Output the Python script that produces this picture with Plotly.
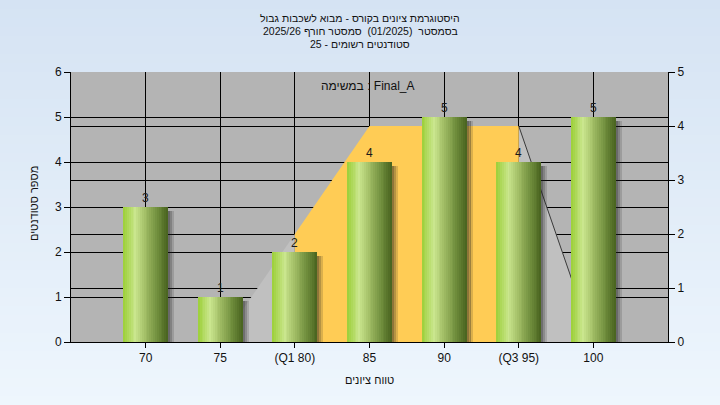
import plotly.graph_objects as go

# ---------------- data ----------------
categories = ["70", "75", "(Q1 80)", "85", "90", "(Q3 95)", "100"]
counts = [3, 1, 2, 4, 5, 4, 5]                  # left axis (number of students)
area_values = [None, 0, 2, 4, 4, 4, 0]          # right axis (distribution area)
left_ticks = [0, 1, 2, 3, 4, 5, 6]
right_ticks = [0, 1, 2, 3, 4, 5]
title_lines = [
    "היסטוגרמת ציונים בקורס - מבוא לשכבות גבול",
    "בסמסטר  (01/2025)  סמסטר חורף 2025/26",
    "סטודנטים רשומים - 25",
]
series_label = "במשימה : Final_A"
x_title = "טווח ציונים"
y_title = "מספר סטודנטים"

# ---------------- layout constants ----------------
W, H = 720, 405
ML, MR, MT, MB = 71, 52, 72, 63
PW, PH = W - ML - MR, H - MT - MB
FONT = "Liberation Sans, Arial, DejaVu Sans, sans-serif"

def px_to_paper_y(py):
    return (H - MB - py) / PH

def px_to_paper_x(px):
    return (px - ML) / PW

xs = list(range(len(categories)))
q1 = next(i for i, c in enumerate(categories) if "Q1" in c)
q3 = next(i for i, c in enumerate(categories) if "Q3" in c)
first = next(i for i, v in enumerate(area_values) if v is not None)
last = max(i for i, v in enumerate(area_values) if v is not None)

fig = go.Figure()

# ---------- area polygons (main axis y = right axis 0..5) ----------
def poly(i0, i1):
    px = [xs[i0]] + xs[i0:i1 + 1] + [xs[i1]]
    py = [0] + area_values[i0:i1 + 1] + [0]
    return px, py

for (i0, i1, col) in [(first, q1, "#C0C0C0"), (q3, last, "#C0C0C0"), (q1, q3, "#FFCC55")]:
    px, py = poly(i0, i1)
    fig.add_trace(go.Scatter(x=px, y=py, fill="toself", fillcolor=col, mode="lines",
                             line=dict(width=0), yaxis="y", hoverinfo="skip", showlegend=False))

fig.add_trace(go.Scatter(x=xs[q3:last + 1], y=area_values[q3:last + 1], mode="lines",
                         line=dict(color="#3a3a3a", width=1), yaxis="y",
                         hoverinfo="skip", showlegend=False))

# ---------- bars (overlay axis y2 = left axis 0..6) ----------
bar_w = 0.6
shadow_w = 0.08
for k, a in enumerate([0.5, 0.33, 0.16]):
    fig.add_trace(go.Bar(x=xs, y=[c - 0.09 for c in counts], base=0,
                         width=shadow_w / 3 * 1.05, offset=bar_w / 2 + k * shadow_w / 3,
                         marker=dict(color=f"rgba(30,30,30,{a})", line=dict(width=0)),
                         yaxis="y2", hoverinfo="skip", showlegend=False))

stops = [(0.0, (155, 207, 55)), (0.27, (202, 230, 142)), (0.5, (160, 188, 100)),
         (0.78, (108, 138, 58)), (1.0, (72, 98, 30))]

def grad(t):
    for (t0, c0), (t1, c1) in zip(stops[:-1], stops[1:]):
        if t0 <= t <= t1:
            f = (t - t0) / (t1 - t0)
            return "rgb(%d,%d,%d)" % tuple(round(a + (b - a) * f) for a, b in zip(c0, c1))
    return "rgb(%d,%d,%d)" % stops[-1][1]

N = 24
sw = bar_w / N
for i in range(N):
    t = (i + 0.5) / N
    fig.add_trace(go.Bar(x=xs, y=counts, width=sw * (1.6 if i < N - 1 else 1.0),
                         offset=-bar_w / 2 + i * sw,
                         marker=dict(color=grad(t), line=dict(width=0)),
                         yaxis="y2", hoverinfo="skip", showlegend=False))

# ---------- background gradient (paper) ----------
shapes = []
top_c, bot_c = (213, 227, 243), (238, 246, 253)
nb = 45
for b in range(nb):
    y0p, y1p = b * H / nb, (b + 1) * H / nb + 1
    f = (b + 0.5) / nb
    col = "rgb(%d,%d,%d)" % tuple(round(a + (c - a) * f) for a, c in zip(top_c, bot_c))
    shapes.append(dict(type="rect", xref="paper", yref="paper", layer="below",
                       x0=px_to_paper_x(-5), x1=px_to_paper_x(W + 5),
                       y0=px_to_paper_y(y1p), y1=px_to_paper_y(y0p),
                       fillcolor=col, line=dict(width=0)))
shapes.append(dict(type="rect", xref="paper", yref="paper", layer="below",
                   x0=0, x1=1, y0=0, y1=1, fillcolor="#B4B4B4", line=dict(width=0)))

# ---------- annotations ----------
annotations = []
for x, c in zip(xs, counts):
    annotations.append(dict(text=str(c), x=x, y=c, xref="x", yref="y2",
                            xanchor="center", yanchor="bottom", yshift=0,
                            showarrow=False,
                            font=dict(family=FONT, size=12, color="#1a1a1a")))
for line, py in zip(title_lines, [18, 31, 44]):
    annotations.append(dict(text=line, xref="paper", yref="paper",
                            x=px_to_paper_x(360), y=px_to_paper_y(py),
                            xanchor="center", yanchor="middle", showarrow=False,
                            font=dict(family=FONT, size=10.5, color="#111111")))
annotations.append(dict(text=series_label, xref="paper", yref="paper",
                        x=px_to_paper_x(368), y=px_to_paper_y(86),
                        xanchor="center", yanchor="middle", showarrow=False,
                        font=dict(family=FONT, size=12, color="#111111")))
annotations.append(dict(text=x_title, xref="paper", yref="paper",
                        x=px_to_paper_x(369), y=px_to_paper_y(380),
                        xanchor="center", yanchor="middle", showarrow=False,
                        font=dict(family=FONT, size=11, color="#111111")))
annotations.append(dict(text=y_title, xref="paper", yref="paper", textangle=-90,
                        x=px_to_paper_x(34), y=px_to_paper_y(204),
                        xanchor="center", yanchor="middle", showarrow=False,
                        font=dict(family=FONT, size=11, color="#111111")))

tickfont = dict(family=FONT, size=12, color="#111111")
fig.update_layout(
    width=W, height=H,
    margin=dict(l=ML, r=MR, t=MT, b=MB),
    paper_bgcolor="#E4EEF9", plot_bgcolor="#B4B4B4",
    barmode="overlay", bargap=0,
    shapes=shapes, annotations=annotations,
    xaxis=dict(range=[-1, len(categories)], tickvals=xs, ticktext=categories,
               showgrid=True, gridcolor="black", gridwidth=1, zeroline=False,
               showline=True, linecolor="black", linewidth=1,
               ticks="outside", ticklen=5, tickcolor="black", tickfont=tickfont,
               fixedrange=True),
    yaxis=dict(range=[0, right_ticks[-1]], tickvals=right_ticks, side="right",
               showgrid=True, gridcolor="black", gridwidth=1, zeroline=False,
               showline=True, linecolor="black", linewidth=1,
               ticks="outside", ticklen=6, tickcolor="black", tickfont=tickfont,
               fixedrange=True),
    yaxis2=dict(range=[0, left_ticks[-1]], tickvals=left_ticks, side="left",
                overlaying="y",
                showgrid=True, gridcolor="black", gridwidth=1, zeroline=False,
                showline=True, linecolor="black", linewidth=1,
                ticks="outside", ticklen=6, tickcolor="black", tickfont=tickfont,
                fixedrange=True),
    showlegend=False,
)

fig.write_html("out.html", config={"displayModeBar": False, "staticPlot": True},
               post_script="document.body.style.margin='0';document.body.style.overflow='hidden';")
